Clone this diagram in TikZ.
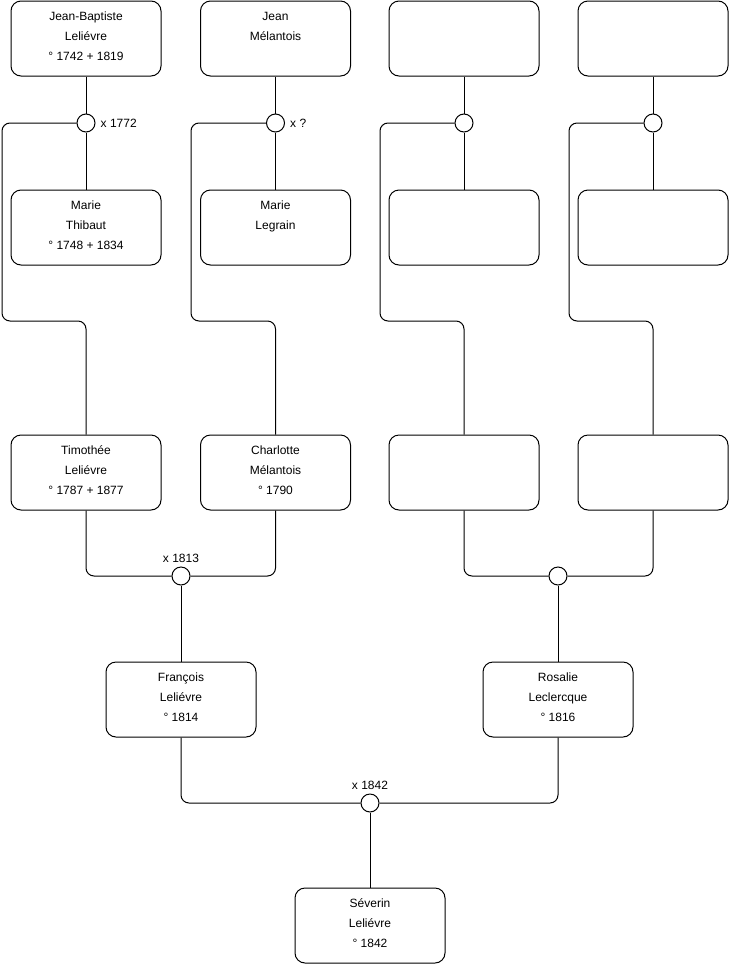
\documentclass[tikz,border=0pt]{standalone}
\usepackage{fontspec}
\setmainfont{Liberation Sans}
\usetikzlibrary{positioning}

\newcommand{\gentext}[1]{\parbox[c][75pt][t]{150pt}{\centering\rule{0pt}{19.5pt}#1}}

\tikzset{
  person/.style={draw,rounded corners=10pt,line width=1pt,inner sep=0pt,minimum width=150pt,minimum height=75pt},
  marriage/.style={draw,circle,fill=white,line width=1pt,inner sep=0pt,minimum size=18pt},
  note/.style={inner sep=1pt},
  link/.style={line width=1pt,rounded corners=8pt},
}

\begin{document}
\begin{tikzpicture}[x=1pt,y=1pt,font=\fontsize{12}{20}\selectfont]
\useasboundingbox (0,0) rectangle (740,-975);
% generation 1
\node[person] (p_jb) at (86,-38.5) {\gentext{Jean-Baptiste\\Leliévre\\° 1742 + 1819}};
\node[person] (p_jm) at (275.5,-38.5) {\gentext{Jean\\Mélantois}};
\node[person] (p_e1) at (464,-38.5) {};
\node[person] (p_e2) at (653,-38.5) {};
\node[person] (p_mt) at (86,-227.5) {\gentext{Marie\\Thibaut\\° 1748 + 1834}};
\node[person] (p_ml) at (275.5,-227.5) {\gentext{Marie\\Legrain}};
\node[person] (p_e3) at (464,-227.5) {};
\node[person] (p_e4) at (653,-227.5) {};
\node[marriage] (m_1) at (86,-123) {};
\node[marriage] (m_2) at (275.5,-123) {};
\node[marriage] (m_3) at (464,-123) {};
\node[marriage] (m_4) at (653,-123) {};
\node[note,right=4pt of m_1] (d_1) {x 1772};
\node[note,right=4pt of m_2] (d_2) {x ?};
% generation 2
\node[person] (p_tl) at (86,-472.5) {\gentext{Timothée\\Leliévre\\° 1787 + 1877}};
\node[person] (p_cm) at (275.5,-472.5) {\gentext{Charlotte\\Mélantois\\° 1790}};
\node[person] (p_e5) at (464,-472.5) {};
\node[person] (p_e6) at (653,-472.5) {};
\node[marriage] (m_5) at (181,-576) {};
\node[marriage] (m_6) at (558,-576) {};
\node[note,above=3pt of m_5] (d_5) {x 1813};
% generation 3
\node[person] (p_fl) at (181,-699.5) {\gentext{François\\Leliévre\\° 1814}};
\node[person] (p_rl) at (558,-699.5) {\gentext{Rosalie\\Leclercque\\° 1816}};
\node[marriage] (m_7) at (370,-803) {};
\node[note,above=3pt of m_7] (d_7) {x 1842};
\node[person] (p_sl) at (370,-925.5) {\gentext{Séverin\\Leliévre\\° 1842}};
% couples
\draw[link] (p_jb) -- (m_1); \draw[link] (m_1) -- (p_mt);
\draw[link] (p_jm) -- (m_2); \draw[link] (m_2) -- (p_ml);
\draw[link] (p_e1) -- (m_3); \draw[link] (m_3) -- (p_e3);
\draw[link] (p_e2) -- (m_4); \draw[link] (m_4) -- (p_e4);
% children
\draw[link] (m_1.west) -| (2,-321) -| (p_tl.north);
\draw[link] (m_2.west) -| (191,-321) -| (p_cm.north);
\draw[link] (m_3.west) -| (380,-321) -| (p_e5.north);
\draw[link] (m_4.west) -| (569,-321) -| (p_e6.north);
\draw[link] (p_tl.south) |- (m_5.west);
\draw[link] (p_cm.south) |- (m_5.east);
\draw[link] (p_e5.south) |- (m_6.west);
\draw[link] (p_e6.south) |- (m_6.east);
\draw[link] (m_5) -- (p_fl);
\draw[link] (m_6) -- (p_rl);
\draw[link] (p_fl.south) |- (m_7.west);
\draw[link] (p_rl.south) |- (m_7.east);
\draw[link] (m_7) -- (p_sl);
\end{tikzpicture}
\end{document}
